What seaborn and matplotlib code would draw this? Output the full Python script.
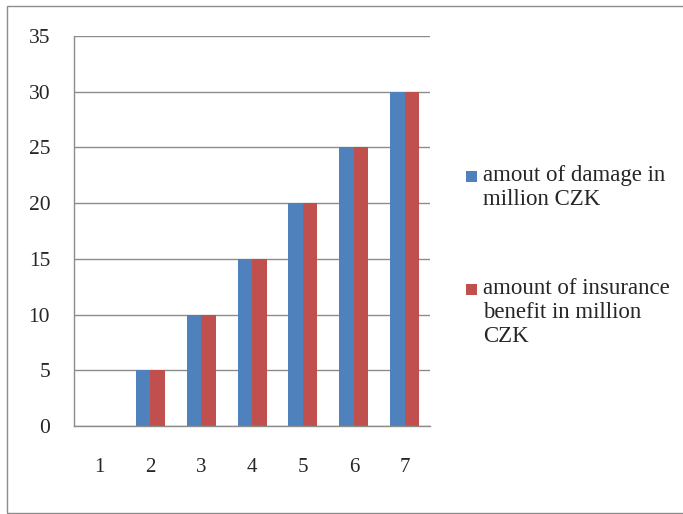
import matplotlib
matplotlib.use("Agg")
import matplotlib.pyplot as plt
import matplotlib.patches as mpatches
import seaborn as sns
import pandas as pd
import numpy as np

# data
categories = ["1", "2", "3", "4", "5", "6", "7"]
damage  = [0, 5, 10, 15, 20, 25, 30]
benefit = [0, 5, 10, 15, 20, 25, 30]
series_names = ["amout of damage in\nmillion CZK",
                "amount of insurance\nbenefit in million\nCZK"]
colors = ["#4F81BD", "#C0504D"]

df = pd.DataFrame({
    "cat": categories * 2,
    "value": damage + benefit,
    "series": [series_names[0]] * 7 + [series_names[1]] * 7,
})

sns.set_style("white")
plt.rcParams["font.family"] = ["Liberation Serif", "DejaVu Serif"]

fig = plt.figure(figsize=(6.83, 5.14), dpi=100)
ax = fig.add_axes([0.108, 0.171, 0.522, 0.759])

sns.barplot(data=df, x="cat", y="value", hue="series", palette=colors,
            width=0.57, saturation=1, linewidth=0, ax=ax, legend=False)

ax.set_ylim(0, 35)
ax.set_xlim(-0.5, 6.5)
ax.set_yticks(range(0, 36, 5))
ax.yaxis.grid(True, color="#8c8c8c", linewidth=1)
ax.set_axisbelow(True)
ax.set_xlabel("")
ax.set_ylabel("")

for s in ["top", "right"]:
    ax.spines[s].set_visible(False)
for s in ["left", "bottom"]:
    ax.spines[s].set_color("#8c8c8c")
    ax.spines[s].set_linewidth(1)

ax.tick_params(axis="y", direction="out", length=6, color="#8c8c8c",
               labelsize=15.5, pad=11)
ax.set_xticks(np.arange(-0.5, 7, 1), minor=True)
ax.tick_params(axis="x", which="minor", direction="out", length=6,
               color="#8c8c8c")
ax.tick_params(axis="x", which="major", length=0, labelsize=15, pad=23)

# legend: square aligned with first line of each wrapped label
legend_rows = [(0.679, 0), (0.459, 1)]
for ytop, i in legend_rows:
    fig.add_artist(mpatches.Rectangle((0.682, ytop - 0.033), 0.016, 0.022,
                                      transform=fig.transFigure,
                                      color=colors[i], linewidth=0))
    fig.text(0.707, ytop, series_names[i], fontsize=16.5, va="top",
             ha="left", linespacing=1.18)

# outer frame
fig.add_artist(mpatches.Rectangle((0.010, 0.002), 1.2, 0.986,
                                  transform=fig.transFigure, fill=False,
                                  edgecolor="#8c8c8c", linewidth=1))

fig.savefig("out.png", dpi=100)
